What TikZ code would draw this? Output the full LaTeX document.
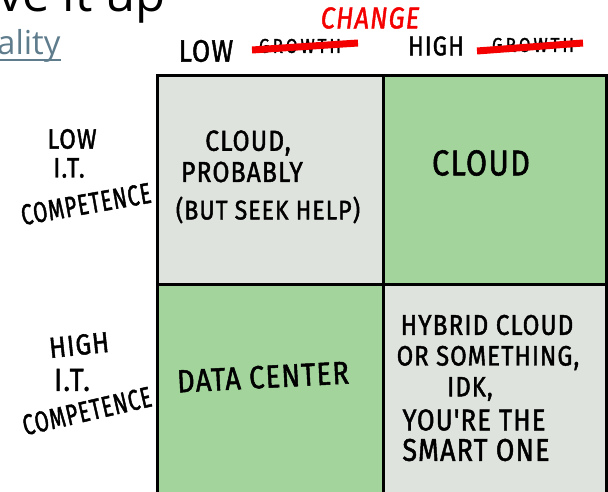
\documentclass[tikz,border=0pt]{standalone}
\usepackage{fontspec}
\setmainfont{Open Sans}
\newfontfamily\handfont[FakeStretch=0.85, FakeBold=1.5, LetterSpace=4]{Fira Sans}
\newfontfamily\narrowhand[FakeStretch=0.7, FakeBold=1.5, LetterSpace=4]{Fira Sans}

\definecolor{cellgrey}{HTML}{DEE3DD}
\definecolor{cellgreen}{HTML}{A2D49C}
\definecolor{linkblue}{HTML}{5E7C8C}
\definecolor{penred}{HTML}{F40000}

\begin{document}
\begin{tikzpicture}[x=1pt,y=-1pt,
		hand/.style={font=\handfont\fontsize{#1}{#1}\selectfont, inner sep=0pt},
		narrow/.style={font=\narrowhand\fontsize{#1}{#1}\selectfont, inner sep=0pt},
		strike/.style={penred, line width=7pt}]
	\clip (0,0) rectangle (608,492);

	% slide text round the chart
	\node[anchor=base west, inner sep=0pt, font=\fontsize{49}{49}\selectfont] (title) at (-2,12) {ve it up};
	\node[anchor=base west, inner sep=0pt, text=linkblue, font=\fontsize{33}{33}\selectfont] (link) at (-3,55) {ality};
	\draw[linkblue, line width=2pt] ([yshift=-5pt]link.base west) -- ([yshift=-5pt]link.base east);

	% the four cells
	\fill[cellgrey] (157,76) rectangle (383,284);
	\fill[cellgreen] (383,76) rectangle (606,284);
	\fill[cellgreen] (157,284) rectangle (383,500);
	\fill[cellgrey] (383,284) rectangle (606,500);

	\draw[line width=3pt] (157,500) -- (157,76) -- (606,76) -- (606,500);
	\draw[line width=3pt] (383,76) -- (383,500);
	\draw[line width=3pt] (157,284) -- (606,284);

	% column heads
	\node[hand=30, text=penred] (change) at (370,18) {\itshape CHANGE};
	\node[hand=31] (low) at (206,51) {LOW};
	\node[hand=20] (lowgrowth) at (300,46) {\addfontfeature{LetterSpace=15}GROWTH};
	\draw[strike] (252,50) -- (358,43);
	\node[hand=27] (high) at (436,46) {HIGH};
	\node[hand=20] (highgrowth) at (533,45) {\addfontfeature{LetterSpace=15}GROWTH};
	\draw[strike] (477,51) -- (583,43);

	% row heads
	\node[hand=28] (lowrow) at (72,139) {LOW};
	\node[hand=28] (lowit) at (69,168) {I.T.};
	\node[narrow=29, rotate=10] (lowcomp) at (86,204) {COMPETENCE};
	\node[hand=29, rotate=6] (highrow) at (79,345) {HIGH};
	\node[hand=32] (highit) at (72,380) {I.T.};
	\node[narrow=29, rotate=13] (highcomp) at (87,411) {COMPETENCE};

	% cell texts
	\node[hand=29] (tl1) at (248,143) {CLOUD,};
	\node[hand=29] (tl2) at (242,172) {PROBABLY};
	\node[hand=27] (tl3) at (268,210) {(BUT SEEK HELP)};

	\node[hand=36] (tr) at (481,163) {CLOUD};

	\node[hand=32, rotate=3] (bl) at (263,377) {DATA CENTER};

	\node[hand=28.5] (br1) at (487,325) {HYBRID CLOUD};
	\node[hand=28] (br2) at (488,358) {OR SOMETHING,};
	\node[hand=28] (br3) at (470,389) {IDK,};
	\node[hand=30] (br4) at (474,420) {YOU'RE THE};
	\node[hand=31.5] (br5) at (476,450) {SMART ONE};
\end{tikzpicture}
\end{document}
